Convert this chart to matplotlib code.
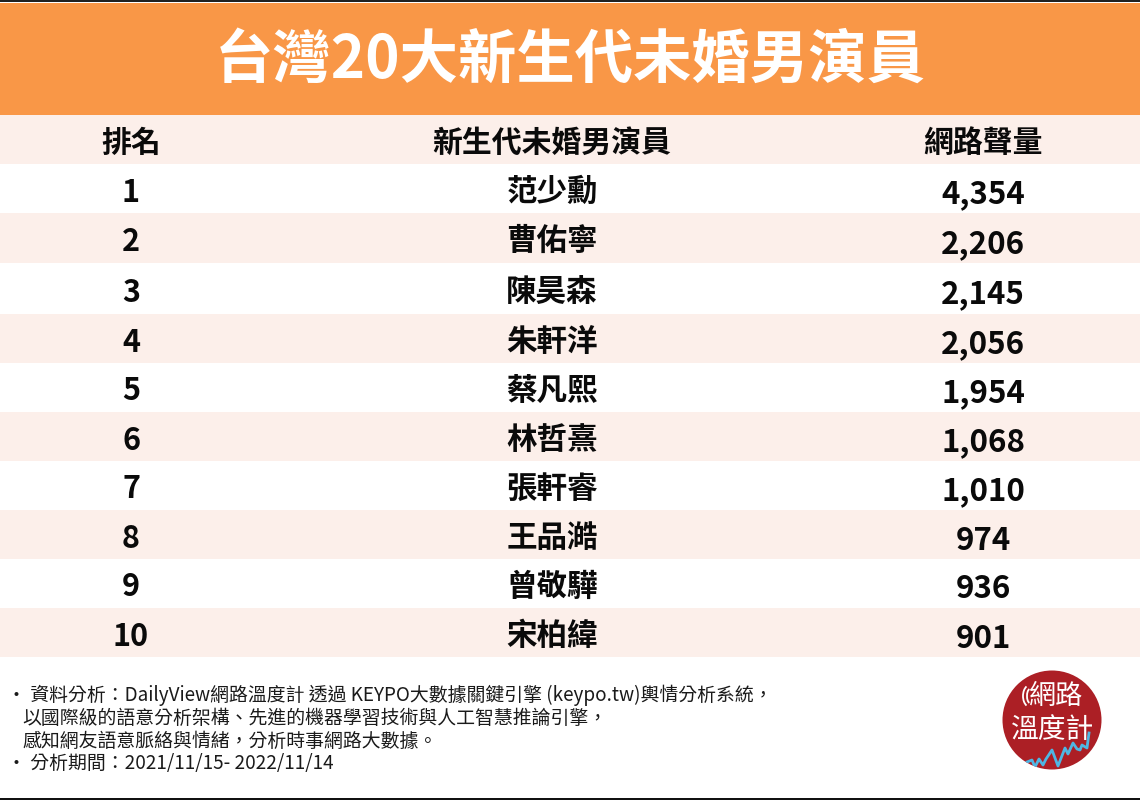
import matplotlib
matplotlib.use("Agg")
import matplotlib.pyplot as plt
from matplotlib.patches import Rectangle, Circle, Arc

plt.rcParams['font.family'] = ['Noto Sans CJK TC', 'DejaVu Sans']

title = "台灣20大新生代未婚男演員"
headers = ["排名", "新生代未婚男演員", "網路聲量"]
ranks = [1, 2, 3, 4, 5, 6, 7, 8, 9, 10]
names = ["范少勳", "曹佑寧", "陳昊森", "朱軒洋", "蔡凡熙", "林哲熹", "張軒睿", "王品澔", "曾敬驊", "宋柏緯"]
volumes = [4354, 2206, 2145, 2056, 1954, 1068, 1010, 974, 936, 901]
notes = [
    "· 資料分析：DailyView網路溫度計 透過 KEYPO大數據關鍵引擎 (keypo.tw)輿情分析系統，",
    "以國際級的語意分析架構、先進的機器學習技術與人工智慧推論引擎，",
    "感知網友語意脈絡與情緒，分析時事網路大數據。",
    "· 分析期間：2021/11/15- 2022/11/14",
]
note_x = [7, 22, 22, 7]
note_y = [695, 718, 741, 764]
logo_lines = ["網路", "溫度計"]
spark_x = [1027, 1032, 1035, 1039, 1043, 1046, 1052, 1058, 1065, 1068, 1073, 1077, 1080, 1082, 1087, 1089]
spark_y = [762, 760, 767, 759, 765, 759, 750, 766, 748, 754, 743, 749, 750, 745, 748, 733]

row_edges = [115, 164, 213, 263, 314, 363, 412, 461, 510, 559, 608, 657]
col_x = [131, 552, 983]
ORANGE, TINT, INK = "#F99747", "#FCEFEA", "#0A0A0A"

fig = plt.figure(figsize=(11.4, 8), dpi=100, facecolor="white")
ax = fig.add_axes([0, 0, 1, 1])
ax.set_xlim(0, 1140)
ax.set_ylim(800, 0)
ax.axis("off")

ax.add_patch(Rectangle((0, 3), 1140, 112, fc=ORANGE, ec="none"))
ax.add_patch(Rectangle((0, 0), 1140, 2, fc="#222222", ec="none"))
ax.add_patch(Rectangle((0, 798), 1140, 2, fc="#111111", ec="none"))
ax.text(570, 61, title, color="white", fontsize=42, fontweight="bold", ha="center", va="center")

for i in range(len(row_edges) - 1):
    shaded = i % 2 == 0
    ax.add_patch(Rectangle((0, row_edges[i]), 1140, row_edges[i + 1] - row_edges[i],
                           fc=TINT if shaded else "white", ec="none"))

for x, h in zip(col_x, headers):
    ax.text(x, 143, h, fontsize=21.5, fontweight="bold", color=INK, ha="center", va="center")

for i, (r, n, v) in enumerate(zip(ranks, names, volumes)):
    y = (row_edges[i + 1] + row_edges[i + 2]) / 2
    ax.text(col_x[0], y + 4, str(r), fontsize=22, fontweight="bold", color=INK, ha="center", va="center")
    ax.text(col_x[1], y + 3, n, fontsize=22, fontweight="bold", color=INK, ha="center", va="center")
    ax.text(col_x[2], y + 6, f"{v:,}", fontsize=22.5, fontweight="bold", color=INK, ha="center", va="center")

for x, y, line in zip(note_x, note_y, notes):
    ax.text(x, y, line, fontsize=13.6, color="#1A1A1A", ha="left", va="center")

# logo
disc = Circle((1052, 720), 49.5, fc="#AC1F25", ec="none")
ax.add_patch(disc)
ax.text(1056, 696, logo_lines[0], color="white", fontsize=19.5, ha="center", va="center")
ax.text(1053, 730, logo_lines[1], color="white", fontsize=20, ha="center", va="center")
ax.add_patch(Arc((1030, 696), 6, 14, theta1=95, theta2=265, color="white", lw=1.3))
ax.add_patch(Arc((1030, 696), 14, 22, theta1=110, theta2=250, color="white", lw=1.3))
spark, = ax.plot(spark_x, spark_y, color="#4FB6E3", lw=2)
spark.set_clip_path(disc)

fig.savefig("out.png", dpi=100)
